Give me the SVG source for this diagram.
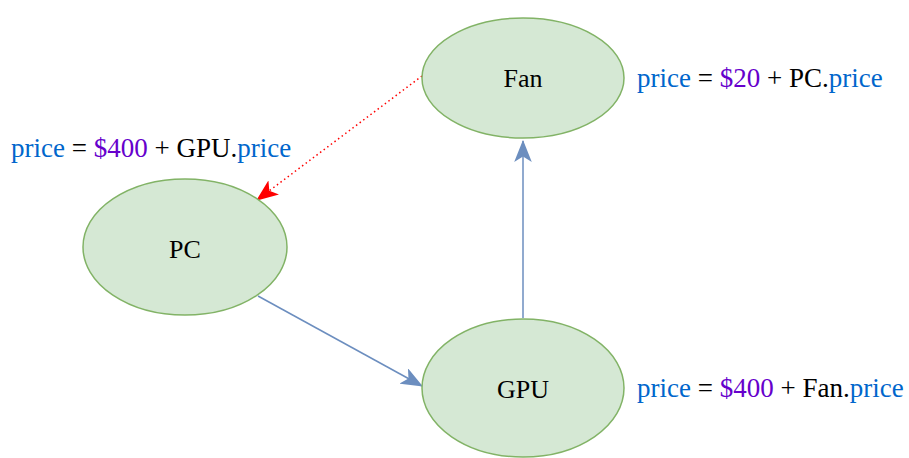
<svg xmlns="http://www.w3.org/2000/svg" width="909" height="458" viewBox="0 0 909 458">
<defs>
<style>
.node{fill:#d5e8d4;stroke:#82b366;stroke-width:1.5}
.t{font-family:"Liberation Serif",serif;font-size:27px;fill:#000}
.n{font-size:26px;text-anchor:middle}
.b{fill:#0066cc}
.p{fill:#6600cc}
.e{fill:none;stroke:#6c8ebf;stroke-width:1.5}
.d{fill:none;stroke:#ff0000;stroke-width:1.5;stroke-dasharray:1.5 3}
</style>
<marker id="ab" viewBox="0 0 20 16" refX="19" refY="8" markerWidth="22" markerHeight="17.6" markerUnits="userSpaceOnUse" orient="auto">
<path d="M0,0 L20,8 L0,16 L5,8 Z" fill="#6c8ebf"/>
</marker>
<marker id="ar" viewBox="0 0 20 16" refX="19" refY="8" markerWidth="22" markerHeight="17.6" markerUnits="userSpaceOnUse" orient="auto">
<path d="M0,0 L20,8 L0,16 L5,8 Z" fill="#ff0000"/>
</marker>
</defs>
<g id="connectors">
<path class="e" d="M258,296 L422,386" marker-end="url(#ab)"/>
<path class="e" d="M523,318 L523,141" marker-end="url(#ab)"/>
<path class="d" d="M422,76 L257,200" marker-end="url(#ar)"/>
</g>
<g id="fan">
<ellipse class="node" cx="523" cy="78" rx="101" ry="60"/>
<text class="t n" x="523" y="87">Fan</text>
</g>
<g id="pc">
<ellipse class="node" cx="185" cy="247" rx="102" ry="68"/>
<text class="t n" x="185" y="258">PC</text>
</g>
<g id="gpu">
<ellipse class="node" cx="523" cy="388" rx="101" ry="69"/>
<text class="t n" x="523" y="398">GPU</text>
</g>
<g id="labels">
<text class="t" x="11" y="157"><tspan class="b">price</tspan> = <tspan class="p">$400</tspan> + GPU.<tspan class="b">price</tspan></text>
<text class="t" x="637" y="87"><tspan class="b">price</tspan> = <tspan class="p">$20</tspan> + PC.<tspan class="b">price</tspan></text>
<text class="t" x="637" y="397"><tspan class="b">price</tspan> = <tspan class="p">$400</tspan> + Fan.<tspan class="b">price</tspan></text>
</g>
</svg>
